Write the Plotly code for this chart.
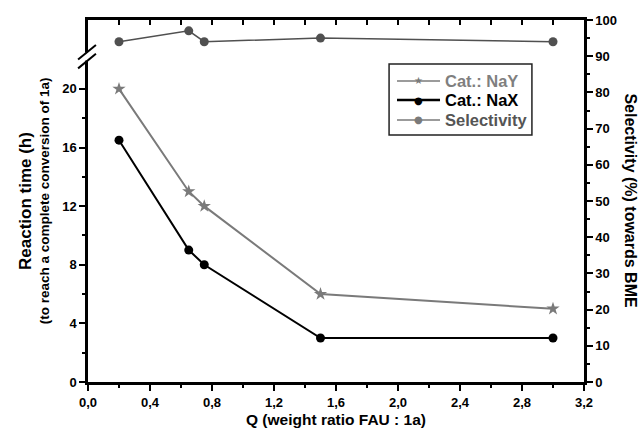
import plotly.graph_objects as go

q = [0.2, 0.65, 0.75, 1.5, 3.0]
nay_time = [20, 13, 12, 6, 5]
nax_time = [16.5, 9, 8, 3, 3]
selectivity = [94, 97, 94, 95, 94]

x_ticks = [0.0, 0.4, 0.8, 1.2, 1.6, 2.0, 2.4, 2.8, 3.2]
left_ticks = [0, 4, 8, 12, 16, 20]
right_ticks = [0, 10, 20, 30, 40, 50, 60, 70, 80, 90, 100]

series_names = ["Cat.: NaY", "Cat.: NaX", "Selectivity"]

FONT = "Liberation Sans"
GRAY = "#7a7a7a"
DARK = "#505050"

fig = go.Figure()
fig.add_trace(go.Scatter(
    x=q, y=nay_time, mode="lines+markers", name=series_names[0],
    line=dict(color=GRAY, width=2),
    marker=dict(symbol="star", size=10, color=GRAY),
))
fig.add_trace(go.Scatter(
    x=q, y=nax_time, mode="lines+markers", name=series_names[1],
    line=dict(color="black", width=2),
    marker=dict(symbol="circle", size=9, color="black"),
))
fig.add_trace(go.Scatter(
    x=q, y=selectivity, mode="lines+markers", yaxis="y2", name=series_names[2],
    line=dict(color=DARK, width=1.5),
    marker=dict(symbol="circle", size=9, color=DARK),
))
# invisible trace to drive the top axis
fig.add_trace(go.Scatter(x=[0, 3.2], y=[0, 0], xaxis="x2", mode="markers",
                         marker=dict(opacity=0), showlegend=False, hoverinfo="skip"))

tickfont = dict(family=FONT, size=13, color="black", weight="bold")

fig.update_layout(
    width=643, height=429,
    margin=dict(l=88, r=59, t=20, b=47),
    paper_bgcolor="white", plot_bgcolor="white",
    separators=",.",
    font=dict(family=FONT, color="black"),
    showlegend=False,
    xaxis=dict(
        range=[0, 3.2], tickvals=x_ticks, tickformat=".1f", automargin=False,
        ticks="outside", ticklen=6, tickwidth=2, tickcolor="black", ticklabelstandoff=1,
        minor=dict(dtick=0.2, tick0=0, ticks="outside", ticklen=3, tickwidth=2, tickcolor="black"),
        showline=True, linewidth=2.5, linecolor="black", showgrid=False, zeroline=False,
        tickfont=tickfont,
    ),
    xaxis2=dict(
        range=[0, 3.2], overlaying="x", side="top", dtick=0.2, tick0=0, automargin=False,
        ticks="inside", ticklen=5, tickwidth=2, tickcolor="black",
        showticklabels=False, showline=True, linewidth=2.5, linecolor="black",
        showgrid=False, zeroline=False,
    ),
    yaxis=dict(
        range=[0, 24.7], tickvals=left_ticks, automargin=False,
        ticks="outside", ticklen=6, tickwidth=2, tickcolor="black",
        minor=dict(tickvals=[2, 6, 10, 14, 18], ticks="outside", ticklen=3, tickwidth=2, tickcolor="black"),
        showline=True, linewidth=2.5, linecolor="black", showgrid=False, zeroline=False,
        tickfont=tickfont,
    ),
    yaxis2=dict(
        range=[0, 100], tickvals=right_ticks, overlaying="y", side="right", automargin=False,
        ticks="outside", ticklen=6, tickwidth=2, tickcolor="black",
        minor=dict(dtick=5, tick0=0, ticks="outside", ticklen=3, tickwidth=2, tickcolor="black"),
        showline=True, linewidth=2.5, linecolor="black", showgrid=False, zeroline=False,
        tickfont=tickfont,
    ),
)

# axis titles
fig.add_annotation(
    xref="paper", yref="paper", x=0.5, y=-0.1, yshift=-1, showarrow=False,
    text="Q (weight ratio FAU : 1a)", font=dict(family=FONT, size=15.5, weight="bold"),
    xanchor="center", yanchor="middle",
)
fig.add_annotation(
    xref="paper", yref="paper", x=-0.127, y=0.5, textangle=-90, showarrow=False,
    text="Reaction time (h)", font=dict(family=FONT, size=17, weight="bold"),
    xanchor="center", yanchor="middle",
)
fig.add_annotation(
    xref="paper", yref="paper", x=-0.088, y=0.5, textangle=-90, showarrow=False,
    text="(to reach a complete conversion of 1a)", font=dict(family=FONT, size=13.5, weight="bold"),
    xanchor="center", yanchor="middle",
)
fig.add_annotation(
    xref="paper", yref="paper", x=1.094, y=0.5, textangle=90, showarrow=False,
    text="Selectivity (%) towards BME", font=dict(family=FONT, size=16, weight="bold"),
    xanchor="center", yanchor="middle",
)

# legend box, drawn by hand to match the compact original layout
fig.add_shape(type="rect", xref="paper", yref="paper", x0=0.607, x1=0.895, y0=0.682, y1=0.8785,
              line=dict(color="#222222", width=1.5), fillcolor="white", layer="above")
legend_rows = [0.8315, 0.779, 0.7238]
legend_line = [(GRAY, 1.5), ("black", 2.5), (GRAY, 1.5)]
legend_sym = [("★", GRAY, 10), ("●", "black", 10), ("●", GRAY, 10)]
legend_text_col = ["#7f7f7f", "#000000", "#555555"]
for name, yr, (lc, lw), (sym, sc, ss), tc in zip(series_names, legend_rows, legend_line,
                                                 legend_sym, legend_text_col):
    fig.add_shape(type="line", xref="paper", yref="paper", x0=0.623, x1=0.7097, y0=yr, y1=yr,
                  line=dict(color=lc, width=lw), layer="above")
    fig.add_annotation(xref="paper", yref="paper", x=0.6663, y=yr, text=sym, showarrow=False,
                       font=dict(family="DejaVu Sans", size=ss, color=sc),
                       xanchor="center", yanchor="middle", bgcolor="rgba(0,0,0,0)")
    fig.add_annotation(xref="paper", yref="paper", x=0.716, y=yr, text=name, showarrow=False,
                       font=dict(family=FONT, size=16.5, color=tc, weight="bold"),
                       xanchor="left", yanchor="middle")

# axis break mark on left axis
fig.add_shape(type="line", xref="paper", yref="y", x0=-0.012, x1=0.012, y0=22.2, y1=22.2,
              line=dict(color="white", width=8), layer="above")
for dy in (-0.3, 0.3):
    fig.add_shape(type="line", xref="paper", yref="y", x0=-0.02, x1=0.016,
                  y0=21.7 + dy, y1=22.7 + dy, line=dict(color="black", width=2), layer="above")

fig.write_html("out.html", post_script="document.body.style.margin='0';",
               config={"displayModeBar": False})
